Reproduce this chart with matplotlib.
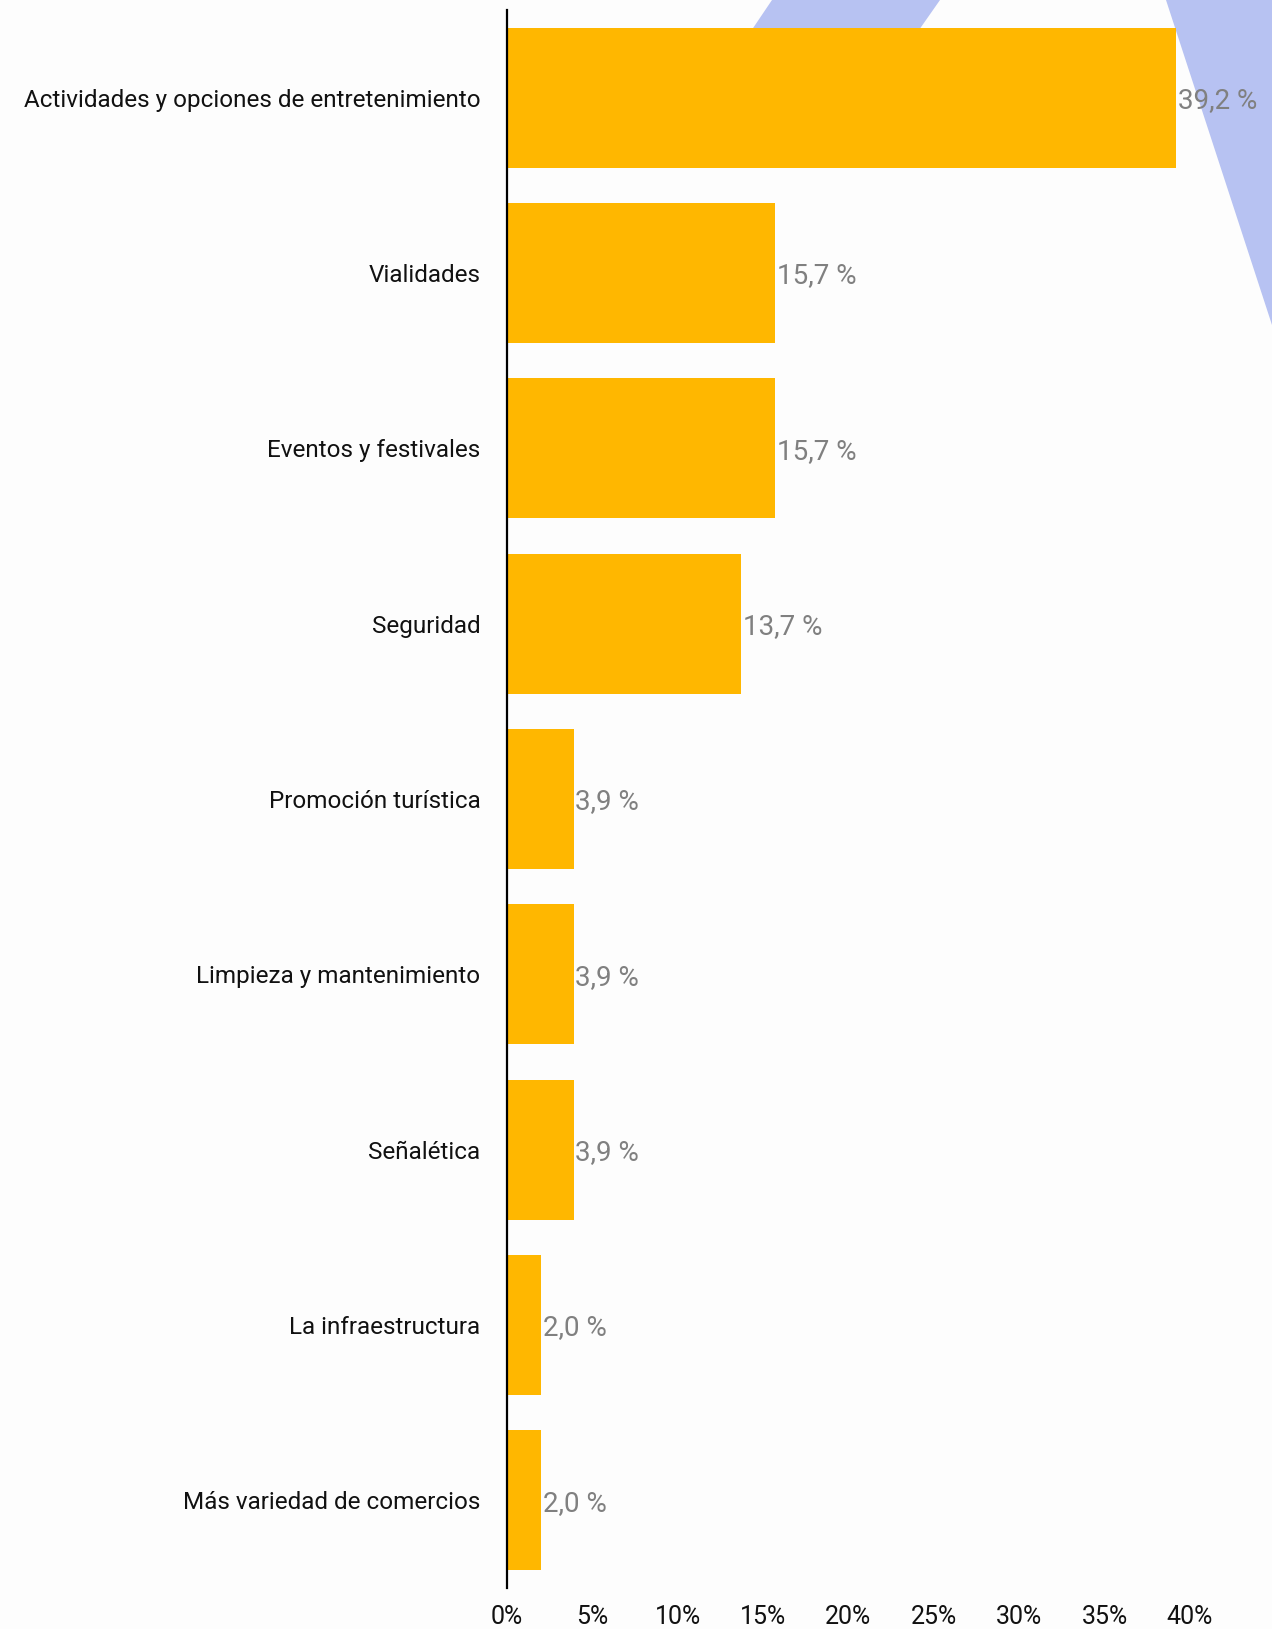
import matplotlib
matplotlib.use("Agg")
import matplotlib.pyplot as plt
from matplotlib.patches import Polygon

plt.rcParams["font.family"] = ["Roboto", "DejaVu Sans"]

# Data
categories = [
    "Actividades y opciones de entretenimiento",
    "Vialidades",
    "Eventos y festivales",
    "Seguridad",
    "Promoción turística",
    "Limpieza y mantenimiento",
    "Señalética",
    "La infraestructura",
    "Más variedad de comercios",
]
values = [39.2, 15.7, 15.7, 13.7, 3.9, 3.9, 3.9, 2.0, 2.0]
xticks = [0, 5, 10, 15, 20, 25, 30, 35, 40]
xtick_labels = ["%d%%" % t for t in xticks]

W, H = 1272, 1629
fig = plt.figure(figsize=(W / 100, H / 100), dpi=100)
fig.patch.set_facecolor("#fdfdfd")


def fig_poly(pts, color):
    # light blue watermark shapes, given in pixel coords from top-left
    pts = [(x / W, 1 - y / H) for x, y in pts]
    fig.patches.append(Polygon(pts, closed=True, transform=fig.transFigure,
                               facecolor=color, edgecolor="none", zorder=-1))


fig_poly([(772, 0), (940, 0), (912, 40), (745, 40)], "#b7c2f2")
fig_poly([(1166, 0), (1272, 0), (1272, 325)], "#b7c2f2")

ax = fig.add_axes([507 / W, 1 - 1588 / H, (1190 - 507) / W, (1588 - 10) / H])
ax.set_zorder(2)
ax.patch.set_alpha(0)

ypos = list(range(len(categories)))
ax.barh(ypos, values, height=0.8, color="#FFB700", zorder=2)
for y, v in zip(ypos, values):
    ax.text(v + 0.1, y, ("%.1f %%" % v).replace(".", ","),
            va="center_baseline", ha="left", fontsize=20, color="#808080",
            zorder=3)

ax.set_ylim(len(categories) - 0.5, -0.5)
ax.set_xlim(0, 40)
ax.set_yticks(ypos)
ax.set_yticklabels(categories, fontsize=17.5, color="#111111")
ax.set_xticks(xticks)
ax.set_xticklabels(xtick_labels, fontsize=18, color="#111111")
ax.tick_params(axis="y", length=0, pad=19)
ax.tick_params(axis="x", length=0, pad=12)

for side in ["top", "right", "bottom"]:
    ax.spines[side].set_visible(False)
ax.spines["left"].set_linewidth(1.6)
ax.spines["left"].set_color("black")
ax.spines["left"].set_zorder(4)

fig.savefig("out.png", dpi=100, facecolor=fig.get_facecolor())
